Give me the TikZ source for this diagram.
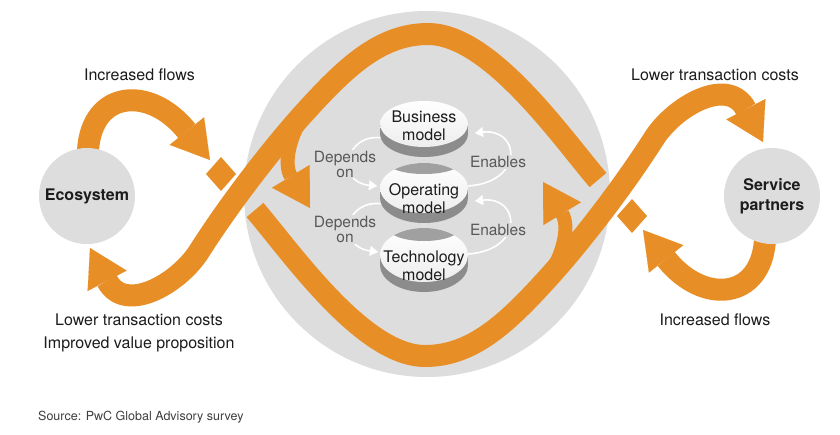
\documentclass[tikz,border=0pt]{standalone}
\usepackage{fontspec}
\setmainfont{TeX Gyre Heros}
\usetikzlibrary{arrows.meta}
\definecolor{orng}{RGB}{232,142,38}
\definecolor{bgc}{RGB}{221,221,221}
\definecolor{txt}{RGB}{28,28,28}
\definecolor{lbl}{RGB}{88,88,88}
\definecolor{sidec}{RGB}{140,140,140}
\definecolor{shadc}{RGB}{160,160,160}
\begin{document}
\begin{tikzpicture}[x=1pt,y=-1pt,
  band/.style={draw=orng, line width=22pt},
  head/.style={-{Triangle[length=37pt,width=44pt,line width=0.1pt]}},
  lab/.style={font=\fontsize{16}{19}\selectfont, text=txt, align=center, inner sep=0pt},
  small/.style={font=\fontsize{15.5}{15}\selectfont, text=lbl, align=center, fill=bgc, inner sep=1pt},
  disktxt/.style={font=\fontsize{16}{18}\selectfont, text=txt, align=center, inner sep=0pt},
  arcw/.style={draw=white, line width=1.6pt, -{Triangle[length=8pt,width=10pt,line width=0.1pt]}},
  ball/.style={circle, fill=bgc, minimum size=96pt, inner sep=0pt, font=\fontsize{16}{20}\selectfont\bfseries, text=txt, align=center}]
\useasboundingbox (0,0) rectangle (840,434);
\fill[white] (0,0) rectangle (840,434);

% central hub
\node[circle, fill=bgc, minimum size=366pt, inner sep=0pt] (hub) at (427,194) {};

% orange bands (point-symmetric halves)
\foreach \ang in {0,180}{
  \begin{scope}[rotate around={\ang:(426.5,195)}]
    \draw[band, head] (88,180) -- (88,150) .. controls (92,90) and (150,85) .. (210,160);
    \fill[orng] (221,157) -- (236,174) -- (221,191) -- (206,174) -- cycle;
    \draw[band, head] (598,180) .. controls (562,138) and (490,34) .. (428,34)
        .. controls (380,34) and (345,68) .. (305,112)
        .. controls (275,145) and (232,200) .. (200,250)
        .. controls (180,283) and (125,315) .. (90,248);
    \draw[orng, line width=14pt, head] (303,116) .. controls (288,140) and (284,165) .. (310,208);
  \end{scope}
}

% side circles
\node[ball] (eco) at (87,196) {Ecosystem};
\node[ball] (sp) at (772,196) {Service\\partners};

% outer labels
\node[lab] (l1) at (139.5,75) {Increased flows};
\node[lab] (l2) at (715,75) {Lower transaction costs};
\node[lab] (l3) at (139,320) {Lower transaction costs};
\node[lab] (l4) at (139,344) {Improved value proposition};
\node[lab] (l5) at (715,320) {Increased flows};
\node[anchor=west, font=\fontsize{12.5}{15}\selectfont, text=txt!85, inner sep=0pt] (src) at (38,417) {Source: PwC Global Advisory survey};

% small white arcs
\draw[arcw] (383,138) .. controls (345,132) and (335,182) .. (377,186);
\draw[arcw] (383,204) .. controls (345,198) and (335,246) .. (378,252);
\draw[arcw] (468,186) .. controls (525,182) and (520,128) .. (475,133);
\draw[arcw] (468,254) .. controls (525,250) and (520,196) .. (475,201);
\node[small] (d1) at (345,164) {Depends\\on};
\node[small] (d2) at (345,229.5) {Depends\\on};
\node[small] (e1) at (498,162) {Enables};
\node[small] (e2) at (498,230) {Enables};

% disks (bottom to top)
% Technology
\fill[sidec] (424,265) ellipse [x radius=44, y radius=27];
\fill[sidec] (380,255) rectangle (468,265);
\shade[top color=white, bottom color=gray!14] (424,255) ellipse [x radius=44, y radius=27];
\begin{scope}
  \clip (424,255) ellipse [x radius=44, y radius=27];
  \fill[shadc] (424,228) ellipse [x radius=36, y radius=13];
\end{scope}
% Operating
\fill[sidec] (424,198) ellipse [x radius=44, y radius=25];
\fill[sidec] (380,188) rectangle (468,198);
\shade[top color=white, bottom color=gray!14] (424,188) ellipse [x radius=44, y radius=25];
\begin{scope}
  \clip (424,188) ellipse [x radius=44, y radius=25];
  \fill[shadc] (424,163) ellipse [x radius=36, y radius=11];
\end{scope}
% Business
\fill[sidec] (424,134) ellipse [x radius=44, y radius=23];
\fill[sidec] (380,124) rectangle (468,134);
\shade[top color=white, bottom color=gray!14] (424,124) ellipse [x radius=44, y radius=23];

\node[disktxt] (bm) at (424,126) {Business\\model};
\node[disktxt] (om) at (424,199) {Operating\\model};
\node[disktxt] (tm) at (424,266) {Technology\\model};
\end{tikzpicture}
\end{document}
